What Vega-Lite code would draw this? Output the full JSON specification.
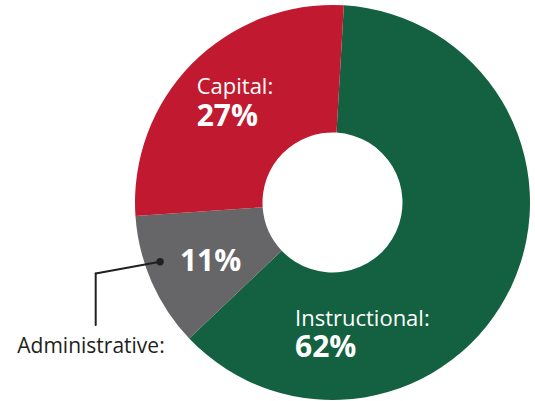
{
  "$schema": "https://vega.github.io/schema/vega-lite/v6.json",
  "width": 395,
  "height": 395,
  "autosize": {"type": "none"},
  "padding": {"left": 135, "top": 5, "right": 5, "bottom": 1},
  "background": "white",
  "config": {"view": {"stroke": null}, "text": {"font": "Open Sans"}},
  "data": {
    "values": [
      {"category": "Instructional", "name": "Instructional:", "pct": "62%", "value": 62, "order": 1},
      {"category": "Administrative", "name": "Administrative:", "pct": "11%", "value": 11, "order": 2},
      {"category": "Capital", "name": "Capital:", "pct": "27%", "value": 27, "order": 3}
    ]
  },
  "layer": [
    {
      "mark": {"type": "arc", "innerRadius": 70, "outerRadius": 197.5},
      "encoding": {
        "theta": {"field": "value", "type": "quantitative", "stack": true, "scale": {"domain": [0, 100], "range": [0.0576, 6.3408]}},
        "order": {"field": "order", "type": "quantitative"},
        "color": {"field": "category", "type": "nominal", "scale": {"domain": ["Instructional", "Administrative", "Capital"], "range": ["#136140", "#666567", "#C11A30"]}, "legend": null}
      }
    },
    {
      "mark": {"type": "text", "radius": 130, "align": "left", "baseline": "alphabetic", "dx": -43.4, "dy": -17.1, "fontSize": 22, "color": "white"},
      "encoding": {
        "theta": {"field": "value", "type": "quantitative", "stack": true},
        "order": {"field": "order", "type": "quantitative"},
        "text": {"condition": {"test": "datum.category === 'Capital'", "field": "name"}, "value": ""}
      }
    },
    {
      "mark": {"type": "text", "radius": 130, "align": "left", "baseline": "alphabetic", "dx": -43.4, "dy": 14.9, "fontSize": 30, "fontWeight": "bold", "color": "white"},
      "encoding": {
        "theta": {"field": "value", "type": "quantitative", "stack": true},
        "order": {"field": "order", "type": "quantitative"},
        "text": {"condition": {"test": "datum.category === 'Capital'", "field": "pct"}, "value": ""}
      }
    },
    {
      "mark": {"type": "text", "radius": 130, "align": "left", "baseline": "alphabetic", "dx": -155.4, "dy": 68.8, "fontSize": 22, "color": "white"},
      "encoding": {
        "theta": {"field": "value", "type": "quantitative", "stack": true},
        "order": {"field": "order", "type": "quantitative"},
        "text": {"condition": {"test": "datum.category === 'Instructional'", "field": "name"}, "value": ""}
      }
    },
    {
      "mark": {"type": "text", "radius": 130, "align": "left", "baseline": "alphabetic", "dx": -155.4, "dy": 99.5, "fontSize": 30, "fontWeight": "bold", "color": "white"},
      "encoding": {
        "theta": {"field": "value", "type": "quantitative", "stack": true},
        "order": {"field": "order", "type": "quantitative"},
        "text": {"condition": {"test": "datum.category === 'Instructional'", "field": "pct"}, "value": ""}
      }
    },
    {
      "mark": {"type": "text", "radius": 130, "align": "left", "baseline": "alphabetic", "dx": -33.5, "dy": 16.3, "fontSize": 30, "fontWeight": "bold", "color": "white"},
      "encoding": {
        "theta": {"field": "value", "type": "quantitative", "stack": true},
        "order": {"field": "order", "type": "quantitative"},
        "text": {"condition": {"test": "datum.category === 'Administrative'", "field": "pct"}, "value": ""}
      }
    },
    {
      "mark": {"type": "text", "radius": 130, "align": "left", "baseline": "alphabetic", "dx": -196.2, "dy": 98, "fontSize": 21, "color": "#231F20"},
      "encoding": {
        "theta": {"field": "value", "type": "quantitative", "stack": true},
        "order": {"field": "order", "type": "quantitative"},
        "text": {"condition": {"test": "datum.category === 'Administrative'", "field": "name"}, "value": ""}
      }
    },
    {
      "transform": [{"filter": "datum.category === 'Administrative'"}],
      "mark": {"type": "rule", "stroke": "#231F20", "strokeWidth": 2, "strokeCap": "round"},
      "encoding": {
        "x": {"datum": -0.873, "type": "quantitative", "scale": {"domain": [-1, 1], "nice": false, "zero": false}, "axis": null},
        "y": {"datum": -0.3, "type": "quantitative", "scale": {"domain": [-1, 1], "nice": false, "zero": false}, "axis": null},
        "x2": {"datum": -1.199},
        "y2": {"datum": -0.359}
      }
    },
    {
      "transform": [{"filter": "datum.category === 'Administrative'"}],
      "mark": {"type": "rule", "stroke": "#231F20", "strokeWidth": 2, "strokeCap": "round"},
      "encoding": {
        "x": {"datum": -1.199, "type": "quantitative"},
        "y": {"datum": -0.359, "type": "quantitative"},
        "y2": {"datum": -0.62}
      }
    },
    {
      "transform": [{"filter": "datum.category === 'Administrative'"}],
      "mark": {"type": "point", "filled": true, "size": 55, "color": "#231F20", "opacity": 1},
      "encoding": {
        "x": {"datum": -0.873, "type": "quantitative"},
        "y": {"datum": -0.3, "type": "quantitative"}
      }
    }
  ]
}
